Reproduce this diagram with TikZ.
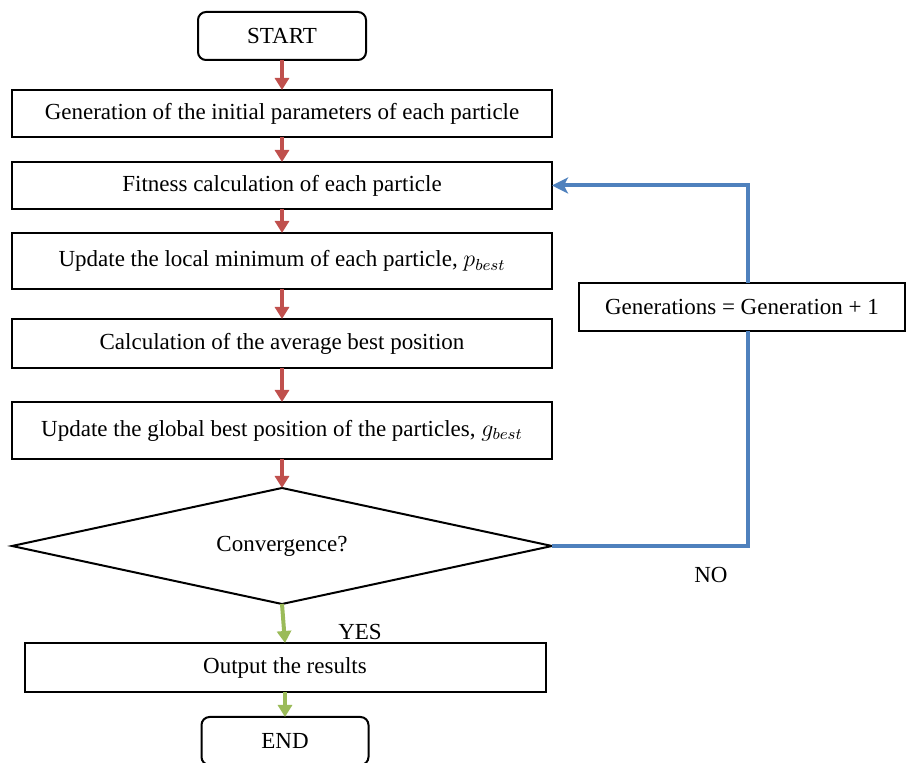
\documentclass[tikz,border=0pt]{standalone}
\usepackage{fontspec}
\setmainfont{Liberation Serif}
\usetikzlibrary{positioning,shapes.geometric,arrows.meta}

\definecolor{flowred}{HTML}{C0504D}
\definecolor{flowblue}{HTML}{4F81BD}
\definecolor{flowgreen}{HTML}{9BBB59}

\begin{document}
\begin{tikzpicture}[
        x=0.5pt, y=-0.5pt,
        font=\fontsize{11.5}{14}\selectfont,
        terminal/.style={draw, line width=1pt, rounded corners=4pt, minimum width=84pt, minimum height=24pt, inner sep=0pt, outer sep=0pt},
        process/.style={draw, line width=1pt, minimum width=270pt, inner sep=0pt, outer sep=0pt},
        decision/.style={draw, line width=1pt, diamond, aspect=4.655, minimum width=270pt, minimum height=58pt, inner sep=0pt, outer sep=0pt},
        redarrow/.style={-{Triangle[length=6pt, width=7pt]}, line width=2pt, flowred},
        greenarrow/.style={-{Triangle[length=6pt, width=7pt]}, line width=2pt, flowgreen},
        loopline/.style={line width=2pt, flowblue}
    ]
    \useasboundingbox (0,0) rectangle (907,763);

    % Nodes - Start
    \node[terminal] (start) at (282,36) {START};

    % Nodes - Main loop
    \node[process, minimum height=23.5pt, below=15pt of start] (init) {Generation of the initial parameters of each particle};
    \node[process, minimum height=23.5pt, below=12.5pt of init] (fitness) {Fitness calculation of each particle};
    \node[process, minimum height=28pt, below=12pt of fitness] (pbest) {Update the local minimum of each particle, $p_{best}$};
    \node[process, minimum height=24.5pt, below=15pt of pbest] (average) {Calculation of the average best position};
    \node[process, minimum height=28.5pt, below=17pt of average] (gbest) {Update the global best position of the particles, $g_{best}$};

    % Nodes - Decision
    \node[decision, below=14.5pt of gbest] (conv) {Convergence?};
    \node[draw, line width=1pt, minimum width=163pt, minimum height=24pt, inner sep=0pt, outer sep=0pt, right=13.5pt of pbest, yshift=-23pt] (gen) {Generations = Generation + 1};

    % Nodes - Output and end
    \node[process, minimum width=260.5pt, minimum height=24.5pt, below=19.5pt of conv, xshift=1.5pt] (output) {Output the results};
    \node[terminal, minimum width=83.5pt, below=12.5pt of output] (end) {END};

    % Labels
    \node (yes) at (360,632) {YES};
    \node (no) at (711,575) {NO};

    % Arrows
    \draw[redarrow] (start) -- (init);
    \draw[redarrow] (init) -- (fitness);
    \draw[redarrow] (fitness) -- (pbest);
    \draw[redarrow] (pbest) -- (average);
    \draw[redarrow] (average) -- (gbest);
    \draw[redarrow] (gbest) -- (conv);
    \draw[greenarrow] (conv.south) -- (output.north);
    \draw[greenarrow] (output) -- (end);
    \draw[loopline] (conv.east) -| ([xshift=3pt]gen.south);
    \draw[loopline, -{Stealth[length=8pt, width=8pt, inset=2pt]}] ([xshift=3pt]gen.north) |- (fitness.east);

    \end{tikzpicture}
\end{document}
